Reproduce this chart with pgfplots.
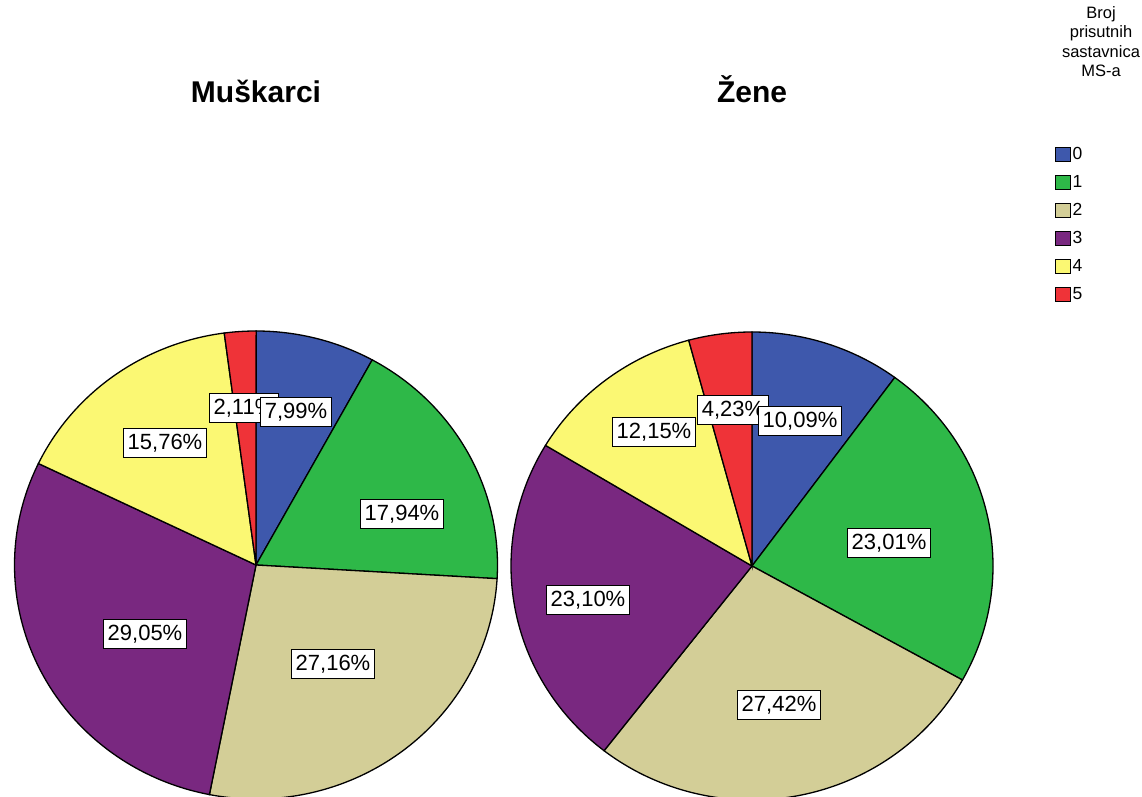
\documentclass[border=0pt]{standalone}
\usepackage{pgfplots}
\pgfplotsset{compat=1.18}
\usepackage{fontspec}
\setmainfont{Liberation Sans}
\definecolor{c0}{RGB}{62,88,172}
\definecolor{c1}{RGB}{46,184,72}
\definecolor{c2}{RGB}{211,206,151}
\definecolor{c3}{RGB}{121,40,128}
\definecolor{c4}{RGB}{251,248,115}
\definecolor{c5}{RGB}{239,51,56}
% Percentages (Muškarci)
\def\MA{7.99}\def\MB{17.94}\def\MC{27.16}\def\MD{29.05}\def\ME{15.76}\def\MF{2.11}
% Percentages (Žene)
\def\ZA{10.09}\def\ZB{23.01}\def\ZC{27.42}\def\ZD{23.10}\def\ZE{12.15}\def\ZF{4.23}
% cumulative angles (clockwise from 12 o'clock)
\pgfmathsetmacro\La{0}
\pgfmathsetmacro\Lb{\La+3.6*\MA}
\pgfmathsetmacro\Lc{\Lb+3.6*\MB}
\pgfmathsetmacro\Ld{\Lc+3.6*\MC}
\pgfmathsetmacro\Le{\Ld+3.6*\MD}
\pgfmathsetmacro\Lf{\Le+3.6*\ME}
\pgfmathsetmacro\Lg{\Lf+3.6*\MF}
\pgfmathsetmacro\Ra{0}
\pgfmathsetmacro\Rb{\Ra+3.6*\ZA}
\pgfmathsetmacro\Rc{\Rb+3.6*\ZB}
\pgfmathsetmacro\Rd{\Rc+3.6*\ZC}
\pgfmathsetmacro\Re{\Rd+3.6*\ZD}
\pgfmathsetmacro\Rf{\Re+3.6*\ZE}
\pgfmathsetmacro\Rg{\Rf+3.6*\ZF}
\newcommand\slice[7]{%
  \addplot[fill=#1, draw=black, line width=1.3bp, domain=#2:#3, samples=90,
    variable=\t, forget plot]
   ({#4+#6*sin(\t)},{#5+#7*cos(\t)}) -- (axis cs:#4,#5) -- cycle;
}
\newcommand\lab[3]{%
  \node[draw=black, fill=white, line width=1bp, inner xsep=4bp, inner ysep=0pt,
    minimum height=29bp, font=\fontsize{22bp}{24bp}\selectfont]
    at (axis cs:#1,{797-#2}) {#3};
}
\begin{document}
\begin{tikzpicture}
\useasboundingbox (0,0) rectangle (1142bp,797bp);
\begin{axis}[
  at={(0,0)}, anchor=south west,
  scale only axis, width=1142bp, height=797bp,
  xmin=0, xmax=1142, ymin=0, ymax=797,
  hide axis,
  legend image code/.code={\draw[#1, draw=black, line width=0.8bp] (0bp,-7bp) rectangle (15bp,7bp);},
  legend style={at={(axis cs:1055,652)}, anchor=north west, draw=none, fill=none,
    inner sep=0pt, font=\fontsize{17.5bp}{19bp}\selectfont,
    nodes={inner sep=1.5bp, text height=12.5bp, text depth=3bp}, row sep=9.5bp},
  legend cell align=left,
]
% Muškarci: center (256,565) px
\slice{c0}{\La}{\Lb}{256}{232}{241.5}{234}
\slice{c1}{\Lb}{\Lc}{256}{232}{241.5}{234}
\slice{c2}{\Lc}{\Ld}{256}{232}{241.5}{234}
\slice{c3}{\Ld}{\Le}{256}{232}{241.5}{234}
\slice{c4}{\Le}{\Lf}{256}{232}{241.5}{234}
\slice{c5}{\Lf}{\Lg}{256}{232}{241.5}{234}
% Žene: center (752,566) px
\slice{c0}{\Ra}{\Rb}{752}{231}{241}{234}
\slice{c1}{\Rb}{\Rc}{752}{231}{241}{234}
\slice{c2}{\Rc}{\Rd}{752}{231}{241}{234}
\slice{c3}{\Rd}{\Re}{752}{231}{241}{234}
\slice{c4}{\Re}{\Rf}{752}{231}{241}{234}
\slice{c5}{\Rf}{\Rg}{752}{231}{241}{234}
\addlegendimage{fill=c0}\addlegendentry{0}
\addlegendimage{fill=c1}\addlegendentry{1}
\addlegendimage{fill=c2}\addlegendentry{2}
\addlegendimage{fill=c3}\addlegendentry{3}
\addlegendimage{fill=c4}\addlegendentry{4}
\addlegendimage{fill=c5}\addlegendentry{5}
% labels
\lab{244}{408}{2,11\%}
\lab{296}{412}{7,99\%}
\lab{402}{514}{17,94\%}
\lab{165}{443}{15,76\%}
\lab{145}{634}{29,05\%}
\lab{333}{664}{27,16\%}
\lab{733}{410}{4,23\%}
\lab{800}{421}{10,09\%}
\lab{889}{543}{23,01\%}
\lab{654}{432}{12,15\%}
\lab{588}{600}{23,10\%}
\lab{779}{705}{27,42\%}
% titles
\node[anchor=base, font=\bfseries\fontsize{30bp}{34bp}\selectfont] at (axis cs:256,694) {Muškarci};
\node[anchor=base, font=\bfseries\fontsize{30bp}{34bp}\selectfont] at (axis cs:752,694) {Žene};
\node[anchor=north, align=center, inner sep=0pt, font=\fontsize{16.5bp}{19.5bp}\selectfont]
  at (axis cs:1101,791) {Broj\\prisutnih\\sastavnica\\MS-a};
\end{axis}
\end{tikzpicture}
\end{document}
